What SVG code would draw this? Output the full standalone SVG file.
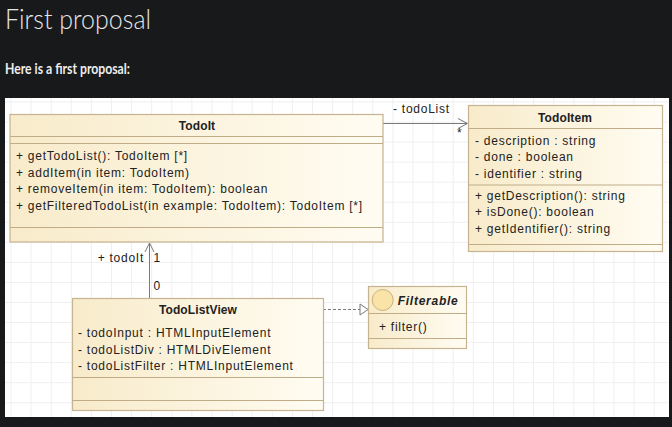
<svg xmlns="http://www.w3.org/2000/svg" width="672" height="427" viewBox="0 0 672 427">
<defs>
<style>
.h1{font-family:Lato,"Noto Sans",sans-serif;font-weight:300;font-size:28px;fill:#e6e6e6}
.p{font-family:Lato,"Noto Sans",sans-serif;font-weight:700;font-size:15px;fill:#ececec}
.box{fill:url(#g);stroke:#c6b38f;stroke-width:1.2}
.sep{stroke:#c0ad88;stroke-width:1.2}
.t{font-family:"Liberation Sans",Arial,sans-serif;font-size:12px;fill:#222;letter-spacing:0.75px}
.b{font-weight:700;text-anchor:middle;letter-spacing:0.1px}
.conn{stroke:#7a7a7a;stroke-width:1;fill:none}
</style>
<linearGradient id="g" x1="0" y1="0" x2="1" y2="0">
<stop offset="0" stop-color="#f8ebca"/>
<stop offset="1" stop-color="#fffcf2"/>
</linearGradient>
<pattern id="grid" patternUnits="userSpaceOnUse" x="10.5" y="101.5" width="20.1" height="20.05">
<path d="M0 0.5H20.1M0.5 0V20.05" stroke="#efefef" stroke-width="1" fill="none"/>
</pattern>
</defs>
<rect width="672" height="427" fill="#18191b"/>
<text class="h1" x="5" y="28.5" textLength="146" lengthAdjust="spacingAndGlyphs">First proposal</text>
<text class="p" x="5" y="74" textLength="125" lengthAdjust="spacingAndGlyphs">Here is a first proposal:</text>
<rect x="5" y="98" width="664" height="319" fill="#fff"/>
<rect x="5" y="98" width="664" height="319" fill="url(#grid)"/>

<g id="connectors">
<path class="conn" d="M383 123.5H467"/>
<path class="conn" d="M458 118.5L467.5 123.5L458 128.5"/>
<path class="conn" d="M149.5 298V243"/>
<path class="conn" d="M145 252L149.5 243L154 252"/>
<path class="conn" d="M323 309.5H360" stroke-dasharray="3,2"/>
<path d="M360 304L368 309.5L360 315Z" fill="#fff" stroke="#7a7a7a" stroke-width="1"/>
<text class="t" x="393" y="112.5">- todoList</text>
<text class="t" x="457" y="137">*</text>
<text class="t" x="144" y="262" text-anchor="end">+ todoIt</text>
<text class="t" x="153.5" y="262">1</text>
<text class="t" x="153.5" y="290">0</text>
</g>

<g id="TodoIt">
<rect class="box" x="10" y="114.5" width="373" height="127.5"/>
<line class="sep" x1="10" y1="136.5" x2="383" y2="136.5"/>
<line class="sep" x1="10" y1="143.5" x2="383" y2="143.5"/>
<line class="sep" x1="10" y1="227.5" x2="383" y2="227.5"/>
<text class="t b" x="197" y="129.5">TodoIt</text>
<text class="t" x="16" y="160">+ getTodoList(): TodoItem [*]</text>
<text class="t" x="16" y="176.5">+ addItem(in item: TodoItem)</text>
<text class="t" x="16" y="193">+ removeItem(in item: TodoItem): boolean</text>
<text class="t" x="16" y="209.5">+ getFilteredTodoList(in example: TodoItem): TodoItem [*]</text>
</g>

<g id="TodoItem">
<rect class="box" x="468.5" y="105.5" width="194" height="146"/>
<line class="sep" x1="468.5" y1="128.5" x2="662.5" y2="128.5"/>
<line class="sep" x1="468.5" y1="185" x2="662.5" y2="185"/>
<line class="sep" x1="468.5" y1="244.5" x2="662.5" y2="244.5"/>
<text class="t b" x="565" y="122">TodoItem</text>
<text class="t" x="475" y="144.5">- description : string</text>
<text class="t" x="475" y="161">- done : boolean</text>
<text class="t" x="475" y="177.5">- identifier : string</text>
<text class="t" x="475" y="199.5">+ getDescription(): string</text>
<text class="t" x="475" y="216">+ isDone(): boolean</text>
<text class="t" x="475" y="232.5">+ getIdentifier(): string</text>
</g>

<g id="TodoListView">
<rect class="box" x="72.5" y="298.5" width="251" height="112"/>
<line class="sep" x1="72.5" y1="377.5" x2="323.5" y2="377.5"/>
<line class="sep" x1="72.5" y1="400.5" x2="323.5" y2="400.5"/>
<text class="t b" x="198" y="313.5">TodoListView</text>
<text class="t" x="78" y="337">- todoInput : HTMLInputElement</text>
<text class="t" x="78" y="353.5">- todoListDiv : HTMLDivElement</text>
<text class="t" x="78" y="370">- todoListFilter : HTMLInputElement</text>
</g>

<g id="Filterable">
<rect class="box" x="368.5" y="286.5" width="98" height="62"/>
<line class="sep" x1="368.5" y1="313.5" x2="466.5" y2="313.5"/>
<line class="sep" x1="368.5" y1="338.5" x2="466.5" y2="338.5"/>
<circle cx="382.7" cy="300" r="10.5" fill="#f9e3a6" stroke="#c9b27f" stroke-width="1"/>
<text class="t" x="458.5" y="304.5" text-anchor="end" font-weight="700" font-style="italic" letter-spacing="0.1">Filterable</text>
<text class="t" x="379" y="331">+ filter()</text>
</g>
</svg>
